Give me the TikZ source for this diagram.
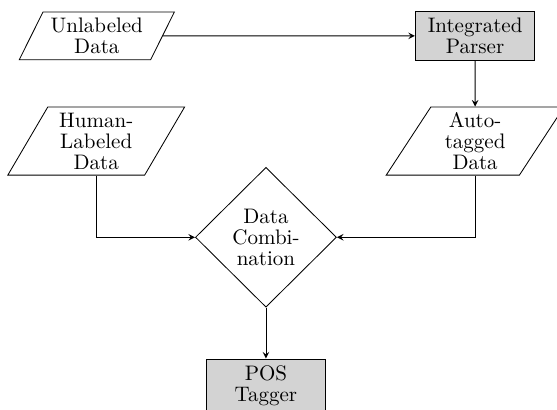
\documentclass[tikz,border=0pt]{standalone}
\usepackage{tikz}
\usetikzlibrary{shapes.geometric, arrows.meta, positioning}
\definecolor{boxgray}{HTML}{D3D3D3}

\begin{document}
\begin{tikzpicture}[font=\fontsize{10}{10}\selectfont, >=stealth,
    datanode/.style={trapezium, trapezium left angle=62, trapezium right angle=118, trapezium stretches=true, draw, align=center, inner sep=1pt},
    procbox/.style={rectangle, draw, fill=boxgray, align=center, minimum width=2cm, minimum height=0.8cm},
    decide/.style={diamond, draw, align=center, inner sep=0pt, minimum width=2.36cm, minimum height=2.34cm, aspect=1},
    flow/.style={->}]
    \useasboundingbox (0,0) rectangle (9.32,-6.86);
    \node[datanode, minimum width=2.6cm, minimum height=0.8cm] (unlab) at (1.62,-0.6) {Unlabeled\\Data};
    \node[procbox] (parser) at (7.95,-0.6) {Integrated\\Parser};
    \node[datanode, minimum width=2.98cm, minimum height=1.14cm] (human) at (1.61,-2.36) {Human-\\Labeled\\Data};
    \node[datanode, minimum width=2.98cm, minimum height=1.14cm] (auto) at (7.95,-2.36) {Auto-\\tagged\\Data};
    \node[decide] (comb) at (4.45,-3.97) {Data\\Combi-\\nation};
    \node[procbox] (pos) at (4.45,-6.46) {POS\\Tagger};
    \draw[flow] (unlab) -- (parser);
    \draw[flow] (parser) -- (auto);
    \draw[flow] (human) |- (comb);
    \draw[flow] (auto) |- (comb);
    \draw[flow] (comb) -- (pos);
\end{tikzpicture}
\end{document}
